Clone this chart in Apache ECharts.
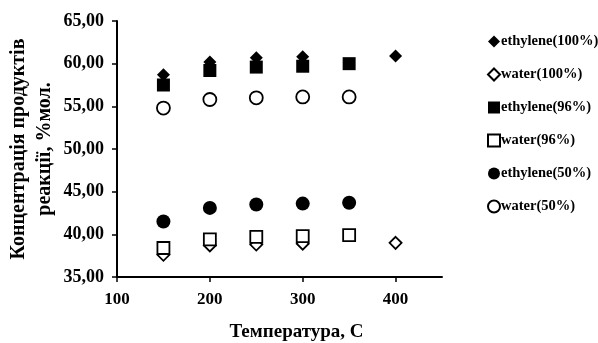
<!DOCTYPE html>
<html>
<head>
<meta charset="utf-8">
<script src="https://cdn.jsdelivr.net/npm/echarts@6/dist/echarts.min.js"></script>
<style>
    html, body { margin: 0; padding: 0; background: #fff; }
    #chart { width: 598px; height: 343px; }
</style>
</head>
<body>
<div id="chart"></div>
<script>
    // температура, C
    var tempMain = [150, 200, 250, 300, 400];
    var temp96 = [150, 200, 250, 300, 350];
    var temp50 = [150, 200, 250, 300, 350];

    // концентрація, %мол.
    var ethylene100 = [58.7, 60.2, 60.7, 60.8, 60.9];
    var water100 = [37.6, 38.7, 38.8, 38.9, 39.0];
    var ethylene96 = [57.5, 59.2, 59.6, 59.7, 60.0];
    var water96 = [38.4, 39.4, 39.7, 39.8, 39.9];
    var ethylene50 = [41.5, 43.1, 43.5, 43.6, 43.7];
    var water50 = [54.8, 55.8, 56.0, 56.1, 56.1];

    var seriesNames = ['ethylene(100%)', 'water(100%)', 'ethylene(96%)', 'water(96%)', 'ethylene(50%)', 'water(50%)'];

    function pairs(xs, ys) {
        var arr = [];
        for (var i = 0; i < xs.length; i++) {
            arr.push([xs[i], ys[i]]);
        }
        return arr;
    }

    var font = 'Liberation Serif';

    function makeSeries(name, xs, ys, symbol, size, filled) {
        return {
            name: name,
            type: 'scatter',
            symbol: symbol,
            symbolSize: size,
            itemStyle: filled
                ? {color: '#000', opacity: 1}
                : {color: '#fff', borderColor: '#000', borderWidth: 1.8, opacity: 1},
            data: pairs(xs, ys)
        };
    }

    var chart = echarts.init(document.getElementById('chart'));
    var option = {
        animation: false,
        backgroundColor: '#fff',
        grid: {
            left: 117,
            right: 156,
            top: 21,
            bottom: 66,
            containLabel: false,
            outerBoundsMode: 'none'
        },
        legend: {
            orient: 'vertical',
            left: 482,
            top: 29,
            itemWidth: 12,
            itemHeight: 12,
            itemGap: 18,
            textStyle: {
                fontFamily: font,
                fontWeight: 'bold',
                fontSize: 14.5,
                color: '#000',
                padding: [0, 0, 0, -4]
            },
            data: seriesNames
        },
        xAxis: {
            type: 'value',
            min: 100,
            max: 450,
            interval: 100,
            name: 'Температура, С',
            nameLocation: 'middle',
            nameGap: 46,
            nameMoveOverlap: false,
            nameTextStyle: {fontFamily: font, fontWeight: 'bold', fontSize: 19, color: '#000', padding: [0, 0, 0, 34]},
            axisLine: {lineStyle: {color: '#000', width: 2}},
            axisTick: {show: true, length: 5, lineStyle: {color: '#000', width: 1.5}},
            axisLabel: {
                fontFamily: font, fontWeight: 'bold', fontSize: 17, color: '#000', margin: 14,
                showMaxLabel: false
            },
            splitLine: {show: false}
        },
        yAxis: {
            type: 'value',
            min: 35,
            max: 65,
            interval: 5,
            name: 'Концентрація продуктів\nреакції, %мол.',
            nameLocation: 'middle',
            nameGap: 59,
            nameMoveOverlap: false,
            nameTextStyle: {fontFamily: font, fontWeight: 'bold', fontSize: 20, color: '#000', lineHeight: 26},
            axisLine: {show: true, lineStyle: {color: '#000', width: 2}},
            axisTick: {show: true, length: 5, lineStyle: {color: '#000', width: 1.5}},
            axisLabel: {
                fontFamily: font, fontWeight: 'bold', fontSize: 18, color: '#000', margin: 13,
                formatter: function (v) { return v.toFixed(2).replace('.', ','); }
            },
            splitLine: {show: false}
        },
        series: [
            makeSeries(seriesNames[0], tempMain, ethylene100, 'diamond', 13, true),
            makeSeries(seriesNames[1], tempMain, water100, 'diamond', 12, false),
            makeSeries(seriesNames[2], temp96, ethylene96, 'rect', 13, true),
            makeSeries(seriesNames[3], temp96, water96, 'rect', 12, false),
            makeSeries(seriesNames[4], temp50, ethylene50, 'circle', 14, true),
            makeSeries(seriesNames[5], temp50, water50, 'circle', 13, false)
        ]
    };
    chart.setOption(option);
</script>
</body>
</html>
